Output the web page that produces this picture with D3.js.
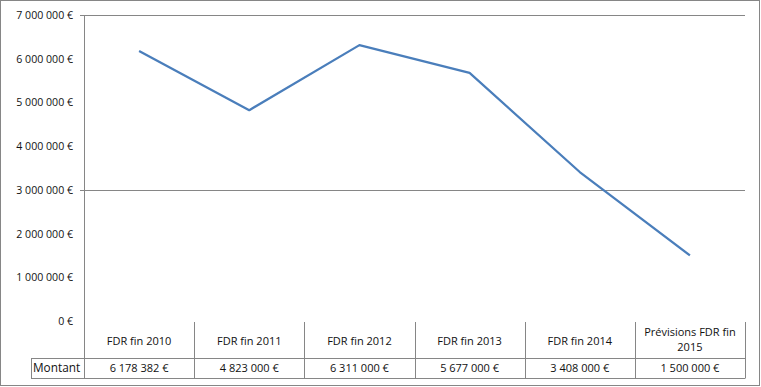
<!DOCTYPE html>
<html><head><meta charset="utf-8">
<script src="https://cdn.jsdelivr.net/npm/d3@7"></script>
<style>body{margin:0;background:#fff}svg{display:block}text{font-family:"Open Sans","Liberation Sans",sans-serif;fill:#111}</style>
</head><body><svg id="c" width="761" height="387"></svg>
<script>
const categories = ["FDR fin 2010","FDR fin 2011","FDR fin 2012","FDR fin 2013","FDR fin 2014","Prévisions FDR fin 2015"];
const values = [6178382, 4823000, 6311000, 5677000, 3408000, 1500000];
const valueLabels = ["6 178 382 €","4 823 000 €","6 311 000 €","5 677 000 €","3 408 000 €","1 500 000 €"];
const yTicks = [0,1000000,2000000,3000000,4000000,5000000,6000000,7000000];
const gridTicks = [3000000,7000000];
const rowLabel = "Montant";

const svg = d3.select("#c");
const L = 84, R = 745, T = 15, B = 321;
const x = d3.scaleBand().domain(categories).range([L, R]);
const y = d3.scaleLinear().domain([0, 7000000]).range([B, T]);
const grey = "#868686";

svg.append("rect").attr("x",0.5).attr("y",0.5).attr("width",759).attr("height",385)
  .attr("fill","#fff").attr("stroke",grey);

// gridlines
svg.selectAll("line.g").data(gridTicks).join("line")
  .attr("x1",80).attr("x2",R).attr("y1",d=>Math.round(y(d))+0.5).attr("y2",d=>Math.round(y(d))+0.5)
  .attr("stroke",grey);

// y axis labels
const fmt = v => d3.format(",")(v).replace(/,/g," ") + " €";
svg.selectAll("text.yl").data(yTicks).join("text")
  .attr("x",73).attr("y",d=>y(d)+4).attr("text-anchor","end").attr("font-size",10.6)
  .text(fmt);

// axis line
svg.append("line").attr("x1",L+0.5).attr("x2",L+0.5).attr("y1",T).attr("y2",378).attr("stroke",grey);

// table
const rowTop = 322, rowMid = 358, rowBot = 378;
x.domain().forEach((c,i)=>{
  const xr = x(c)+x.bandwidth();
  svg.append("line").attr("x1",Math.round(xr)+0.5).attr("x2",Math.round(xr)+0.5)
    .attr("y1",rowTop).attr("y2",rowBot).attr("stroke",grey);
});
[rowMid,rowBot].forEach(yy=>svg.append("line").attr("x1",31).attr("x2",R+0.5)
  .attr("y1",yy+0.5).attr("y2",yy+0.5).attr("stroke",grey));
svg.append("line").attr("x1",31.5).attr("x2",31.5).attr("y1",rowMid).attr("y2",rowBot).attr("stroke",grey);

categories.forEach((c,i)=>{
  const cx = x(c)+x.bandwidth()/2;
  if (c.startsWith("Prévisions")) {
    const t = svg.append("text").attr("x",cx).attr("text-anchor","middle").attr("font-size",11);
    t.append("tspan").attr("x",cx).attr("y",336).text("Prévisions FDR fin");
    t.append("tspan").attr("x",cx).attr("y",351).text("2015");
  } else {
    svg.append("text").attr("x",cx).attr("y",345).attr("text-anchor","middle").attr("font-size",11).text(c);
  }
  svg.append("text").attr("x",cx).attr("y",372).attr("text-anchor","middle").attr("font-size",11).text(valueLabels[i]);
});
svg.append("text").attr("x",33).attr("y",372).attr("font-size",11.8).text(rowLabel);

// line
const line = d3.line().x((d,i)=>x(categories[i])+x.bandwidth()/2).y(d=>y(d));
svg.append("path").datum(values).attr("d",line).attr("fill","none")
  .attr("stroke","#4a7ebb").attr("stroke-width",2.25).attr("stroke-linejoin","round");
</script></body></html>
